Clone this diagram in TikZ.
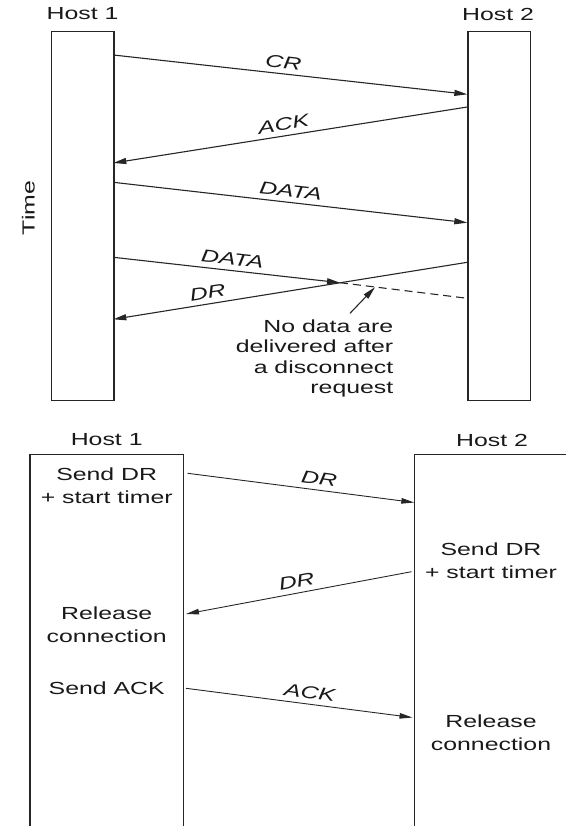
\documentclass[tikz,border=0pt]{standalone}
\usepackage{fontspec}
\usepackage{graphicx}
\setmainfont{Liberation Sans}
\newcommand{\wtxt}[1]{\scalebox{1.42}[1]{#1}}
\newcommand{\wlines}[2]{\scalebox{1.42}[1]{\begin{tabular}{@{}#1@{}}#2\end{tabular}}}
\usetikzlibrary{arrows.meta}
\begin{document}
\begin{tikzpicture}[x=1pt,y=-1pt,
  lane/.style={draw=black!85, line width=1.2pt},
  msg/.style={draw=black!85, line width=1.1pt, -{Triangle[length=13pt,width=6pt]}},
  msgb/.style={draw=black!85, line width=0.9pt, -{Triangle[length=13pt,width=5.5pt]}},
  lbl/.style={font=\fontsize{17.5}{21}\selectfont\itshape, sloped, above=2pt, inner sep=3pt, text=black!90},
  txt/.style={font=\fontsize{17.5}{23}\selectfont, inner sep=0pt, text=black!90},
]
\useasboundingbox (0,0) rectangle (566,826);

% ---------- top diagram ----------
\node[txt] (th1) at (82.5,14) {\wtxt{Host 1}};
\node[txt] (th2) at (498,14) {\wtxt{Host 2}};
\node[lane, rectangle, anchor=north west, inner sep=0pt, minimum width=62.3pt, minimum height=369.3pt] (h1) at (51,30.7) {};
\node[lane, rectangle, anchor=north west, inner sep=0pt, minimum width=62.7pt, minimum height=369.3pt] (h2) at (467.3,30.7) {};
\node[txt, rotate=90] (time) at (28.3,208) {\wtxt{Time}};

\coordinate (cr1) at (113.3,55);
\coordinate (cr2) at (467.3,94.3);
\coordinate (ak1) at (467.3,107);
\coordinate (ak2) at (113.3,163);
\coordinate (da1) at (113.3,182.3);
\coordinate (da2) at (467.3,222.7);
\coordinate (db1) at (113.3,257.3);
\coordinate (cross) at (340,282.7);
\coordinate (db2) at (467.3,298.3);
\coordinate (dr1) at (467.3,262.3);
\coordinate (dr2) at (113.3,319.3);
\coordinate (pt1) at (350,313.3);
\coordinate (pt2) at (375,287.2);

\draw[msg] (cr1) -- node[lbl, pos=0.477] (lcr) {\wtxt{CR}} (cr2);
\draw[msg] (ak1) -- node[lbl, pos=0.514] (lak) {\wtxt{ACK}} (ak2);
\draw[msg] (da1) -- node[lbl, pos=0.497] (lda) {\wtxt{DATA}} (da2);
\draw[msg] (db1) -- node[lbl, pos=0.52] (ldb) {\wtxt{DATA}} (cross);
\draw[draw=black!85, line width=1.1pt, dash pattern=on 8pt off 5pt] (cross) -- (db2);
\draw[msg] (dr1) -- node[lbl, pos=0.728] (ldr) {\wtxt{DR}} (dr2);
\draw[msg] (pt1) -- (pt2);
\node[txt, font=\fontsize{17.5}{20.4}\selectfont, anchor=north east] (note) at (393.5,318)
  {\wlines{r}{No data are\\delivered after\\a disconnect\\request}};

% ---------- bottom diagram ----------
\node[txt] (bh1) at (106.7,440) {\wtxt{Host 1}};
\node[txt] (bh2) at (492,440) {\wtxt{Host 2}};
\coordinate (l1) at (30,826);
\coordinate (l2) at (183.3,454.3);
\coordinate (l3) at (183.3,826);
\coordinate (r1) at (414.3,826);
\coordinate (r2) at (566,454.3);
\draw[lane] (l1) |- (l2) -- (l3);
\draw[lane] (r1) |- (r2);

\node[txt] (s1) at (106.7,487.5) {\wlines{c}{Send DR\\+ start timer}};
\node[txt] (s2) at (106.7,626.4) {\wlines{c}{Release\\connection}};
\node[txt] (s3) at (106.7,688.3) {\wtxt{Send ACK}};
\node[txt] (s4) at (491,562.1) {\wlines{c}{Send DR\\+ start timer}};
\node[txt] (s5) at (491,734.1) {\wlines{c}{Release\\connection}};

\coordinate (b1a) at (187.7,473.3);
\coordinate (b1b) at (414.3,502.5);
\coordinate (b2a) at (411.5,571.7);
\coordinate (b2b) at (186,614);
\coordinate (b3a) at (186,688.3);
\coordinate (b3b) at (412.5,717.5);
\draw[msgb] (b1a) -- node[lbl, pos=0.574] (lb1) {\wtxt{DR}} (b1b);
\draw[msgb] (b2a) -- node[lbl, pos=0.5] (lb2) {\wtxt{DR}} (b2b);
\draw[msgb] (b3a) -- node[lbl, pos=0.54] (lb3) {\wtxt{ACK}} (b3b);
\end{tikzpicture}
\end{document}
